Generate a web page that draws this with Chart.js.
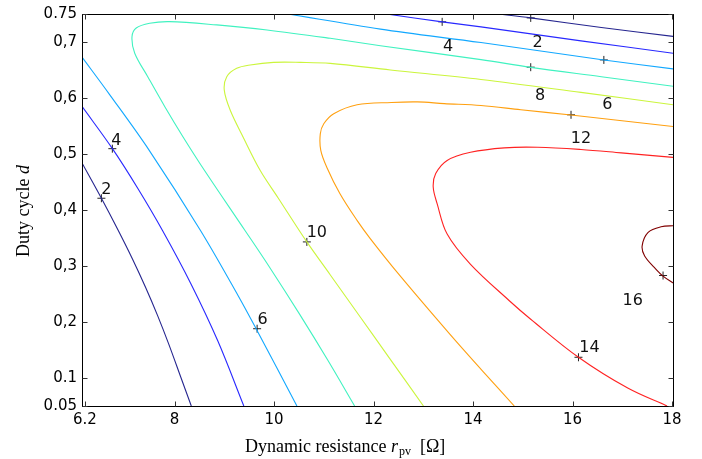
<!DOCTYPE html>
<html><head><meta charset="utf-8">
<script src="https://cdn.jsdelivr.net/npm/chart.js@4"></script>
<style>html,body{margin:0;padding:0;background:#fff;}#wrap{width:702px;height:459px;}</style>
</head><body><div id="wrap"><canvas id="c" width="702" height="459"></canvas></div>
<script>
// ---- axis ticks ----
const xTicks = [6.2, 8, 10, 12, 14, 16, 18];
const xTickLabels = ['6.2', '8', '10', '12', '14', '16', '18'];
const yTicks = [0.05, 0.1, 0.2, 0.3, 0.4, 0.5, 0.6, 0.7, 0.75];
const yTickLabels = ['0.05', '0.1', '0,2', '0,3', '0,4', '0,5', '0,6', '0,7', '0.75'];

// ---- contour lines (x = r_pv [Ohm], y = duty cycle d) ----
const level2Left = [[6.14,0.484],[6.53,0.421],[6.872,0.363],[7.152,0.313],[7.417,0.262],[7.662,0.211],[7.882,0.161],[8.132,0.1],[8.337,0.05]];
const level2Top = [[14.5,0.75],[15.16,0.743],[16.58,0.726],[18.02,0.71]];
const level4Left = [[6.14,0.585],[6.748,0.51],[7.266,0.438],[7.761,0.363],[8.331,0.268],[8.871,0.166],[9.393,0.05]];
const level4Top = [[12.26,0.75],[13.38,0.736],[14.16,0.727],[16.17,0.702],[18.02,0.68]];
const level6Left = [[6.14,0.673],[6.688,0.607],[7.488,0.507],[8.525,0.363],[9.279,0.247],[9.64,0.188],[10.46,0.05]];
const level6Top = [[10.28,0.75],[12.14,0.723],[14.16,0.699],[16.63,0.668],[18.02,0.652]];
const level8 = [[11.62,0.05],[11.079,0.132],[10.513,0.214],[9.894,0.30],[9.42,0.363],[8.60,0.471],[8.175,0.530],[7.808,0.584],[7.462,0.638],[7.20,0.680],[7.145,0.7095],[7.23,0.725],[7.50,0.7335],[7.9,0.7364],[8.85,0.7305],[9.86,0.7215],[11.13,0.7066],[12.14,0.6934],[14.16,0.6686],[15.16,0.6547],[16.58,0.638],[18.02,0.621]];
const level10 = [[13.004,0.05],[12.316,0.136],[11.74,0.208],[11.132,0.284],[10.66,0.343],[10.08,0.422],[9.72,0.471],[9.38,0.530],[9.12,0.578],[9.0,0.614],[9.05,0.638],[9.25,0.653],[9.52,0.659],[9.99,0.6636],[10.53,0.6636],[11.13,0.6618],[12.34,0.650],[14.16,0.633],[16.17,0.610],[18.02,0.588]];
const level12 = [[14.83,0.05],[14.198,0.112],[13.538,0.178],[12.506,0.2855],[11.934,0.349],[11.672,0.381],[11.326,0.429],[11.06,0.4765],[10.94,0.5065],[10.93,0.536],[11.0,0.554],[11.2,0.572],[11.67,0.588],[12.36,0.592],[12.88,0.593],[13.42,0.590],[14.16,0.5866],[14.96,0.579],[15.97,0.5697],[18.02,0.549]];
const level14 = [[17.9,0.05],[17.11,0.082],[16.12,0.137],[15.16,0.205],[14.73,0.238],[13.95,0.303],[13.48,0.357],[13.28,0.411],[13.2,0.441],[13.25,0.465],[13.48,0.4885],[13.95,0.503],[14.63,0.511],[15.3,0.512],[16.17,0.508],[16.98,0.502],[18.02,0.494]];
const level16 = [[18.05,0.372],[17.78,0.370],[17.52,0.36],[17.4,0.336],[17.45,0.318],[17.65,0.297],[17.82,0.282],[18.05,0.268]];

// ---- contour labels ----
const labelText = ['2','4','6','10','14','16','4','2','8','6','12'];
const markerX = [6.53,6.75,9.66,10.66,16.12,17.82,13.38,15.16,15.16,16.63,15.97];
const markerY = [0.421,0.5095,0.188,0.343,0.137,0.283,0.736,0.743,0.655,0.668,0.570];
const labelX = [6.63,6.83,9.77,10.86,16.34,17.21,13.50,15.30,15.35,16.70,16.17];
const labelY = [0.436,0.524,0.203,0.36,0.154,0.238,0.692,0.698,0.6045,0.588,0.527];

const levelColors = {2:'#25258f',4:'#2828ff',6:'#12a8ff',8:'#40f2c0',10:'#cbf53c',12:'#ffa010',14:'#ff2222',16:'#800000'};
const curves = [
  [2, level2Left],[2, level2Top],[4, level4Left],[4, level4Top],[6, level6Left],[6, level6Top],
  [8, level8],[10, level10],[12, level12],[14, level14],[16, level16]
];

const datasets = curves.map(([lv, pts]) => ({
  type: 'line',
  data: pts.map(p => ({x: p[0], y: p[1]})),
  borderColor: levelColors[lv],
  borderWidth: 1.1,
  pointRadius: 0,
  tension: 0.35,
  fill: false
}));
datasets.push({
  type: 'scatter',
  data: markerX.map((x, i) => ({x: x, y: markerY[i]})),
  pointStyle: 'cross',
  pointRadius: 4,
  borderColor: '#222',
  borderWidth: 1,
  backgroundColor: '#222'
});

const framePlugin = {
  id: 'frame',
  afterDatasetsDraw(chart) {
    const {ctx, chartArea: a, scales: {x, y}} = chart;
    ctx.save();
    ctx.fillStyle = '#111';
    ctx.font = '16px "DejaVu Sans"';
    ctx.textAlign = 'center';
    ctx.textBaseline = 'middle';
    labelText.forEach((t, i) => {
      ctx.fillText(t, x.getPixelForValue(labelX[i]), y.getPixelForValue(labelY[i]));
    });
    ctx.strokeStyle = '#000';
    ctx.lineWidth = 1;
    const L = Math.round(a.left) + 0.5, R = Math.round(a.right) + 0.5;
    const T = Math.round(a.top) + 0.5, B = Math.round(a.bottom) + 0.5;
    ctx.strokeRect(L, T, R - L, B - T);
    ctx.strokeStyle = '#333';
    ctx.beginPath();
    xTicks.forEach(v => {
      const px = Math.round(x.getPixelForValue(v)) + 0.5;
      ctx.moveTo(px, B); ctx.lineTo(px, B - 5);
      ctx.moveTo(px, T); ctx.lineTo(px, T + 5);
    });
    yTicks.forEach(v => {
      const py = Math.round(y.getPixelForValue(v)) + 0.5;
      ctx.moveTo(L, py); ctx.lineTo(L + 5, py);
      ctx.moveTo(R, py); ctx.lineTo(R - 5, py);
    });
    ctx.stroke();
    ctx.fillStyle = '#000';
    ctx.textAlign = 'left';
    ctx.textBaseline = 'alphabetic';
    let cx = 245;
    const by = 452;
    ctx.font = '18px "Liberation Serif"';
    let s = 'Dynamic resistance ';
    ctx.fillText(s, cx, by); cx += ctx.measureText(s).width;
    ctx.font = 'italic 18px "Liberation Serif"';
    ctx.fillText('r', cx, by); cx += ctx.measureText('r').width + 1;
    ctx.font = '12px "Liberation Serif"';
    ctx.fillText('pv', cx, by + 3); cx += ctx.measureText('pv').width;
    ctx.font = '18px "Liberation Serif"';
    ctx.fillText('  [\u03A9]', cx, by);
    ctx.save();
    ctx.translate(29, 211);
    ctx.rotate(-Math.PI / 2);
    ctx.font = '18px "Liberation Serif"';
    const p1 = 'Duty cycle ';
    const w1 = ctx.measureText(p1).width;
    ctx.font = 'italic 18px "Liberation Serif"';
    const w2 = ctx.measureText('d').width;
    const start = -(w1 + w2) / 2;
    ctx.font = '18px "Liberation Serif"';
    ctx.fillText(p1, start, 0);
    ctx.font = 'italic 18px "Liberation Serif"';
    ctx.fillText('d', start + w1, 0);
    ctx.restore();
    ctx.restore();
  }
};

new Chart(document.getElementById('c'), {
  type: 'line',
  data: {datasets},
  options: {
    responsive: false,
    animation: false,
    devicePixelRatio: 1,
    layout: {padding: {top: 13, right: 29, left: 0, bottom: 0}},
    plugins: {legend: {display: false}, tooltip: {enabled: false}},
    scales: {
      x: {
        type: 'linear', min: 6.14, max: 18.02,
        afterBuildTicks: s => { s.ticks = xTicks.map(v => ({value: v})); },
        afterFit: s => { s.height = 53; },
        grid: {display: false, drawTicks: false},
        border: {display: false},
        ticks: {autoSkip: false, maxRotation: 0, padding: 5, color: '#000',
          font: {family: 'DejaVu Sans', size: 15},
          callback: (v, i) => xTickLabels[i]}
      },
      y: {
        type: 'linear', min: 0.05, max: 0.75,
        afterBuildTicks: s => { s.ticks = yTicks.map(v => ({value: v})); },
        afterFit: s => { s.width = 82; },
        grid: {display: false, drawTicks: false},
        border: {display: false},
        ticks: {autoSkip: false, padding: 5, color: '#000',
          font: {family: 'DejaVu Sans', size: 15},
          callback: (v, i) => yTickLabels[i]}
      }
    }
  },
  plugins: [framePlugin]
});
</script></body></html>
